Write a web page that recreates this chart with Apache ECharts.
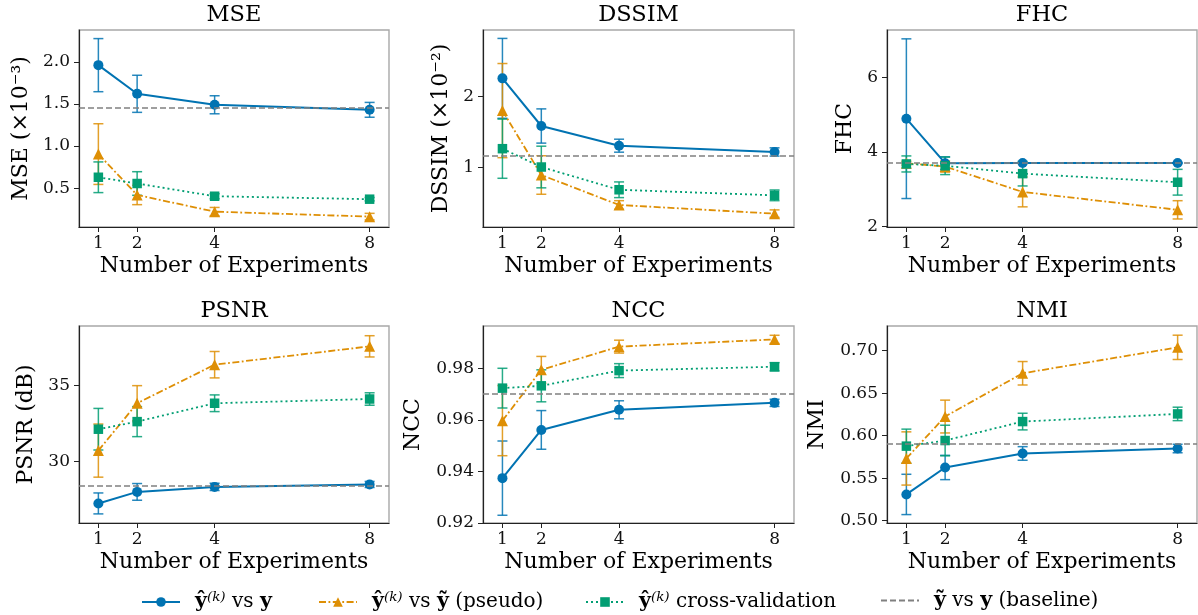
<!DOCTYPE html>
<html>
<head>
<meta charset="utf-8">
<script src="https://cdn.jsdelivr.net/npm/echarts@6/dist/echarts.min.js"></script>
<style>
html,body{margin:0;padding:0;background:#fff;}
#chart{width:1198px;height:615px;}
</style>
</head>
<body>
<div id="chart"></div>
<script>
// ---------------- data ----------------
const experiments = [1, 2, 4, 8];
const xTicks = [1, 2, 4, 8];

// MSE (x10^-3)
const mseRecon = [1.96, 1.62, 1.49, 1.43];
const mseReconStd = [0.315, 0.22, 0.107, 0.088];
const msePseudo = [0.905, 0.42, 0.222, 0.163];
const msePseudoStd = [0.36, 0.115, 0.05, 0.039];
const mseCV = [0.63, 0.556, 0.405, 0.37];
const mseCVStd = [0.182, 0.14, 0.03, 0.02];
const mseBaseline = 1.464;
const mseTicks = [0.5, 1.0, 1.5, 2.0];

// DSSIM (x10^-2)
const dssimRecon = [2.252, 1.584, 1.308, 1.22];
const dssimReconStd = [0.56, 0.24, 0.091, 0.058];
const dssimPseudo = [1.80, 0.897, 0.477, 0.355];
const dssimPseudoStd = [0.66, 0.27, 0.06, 0.053];
const dssimCV = [1.266, 1.009, 0.69, 0.612];
const dssimCVStd = [0.415, 0.292, 0.11, 0.075];
const dssimBaseline = 1.173;
const dssimTicks = [1, 2];

// FHC
const fhcRecon = [4.893, 3.70, 3.705, 3.705];
const fhcReconStd = [2.14, 0.17, 0.01, 0.01];
const fhcPseudo = [3.70, 3.61, 2.93, 2.45];
const fhcPseudoStd = [0.05, 0.15, 0.40, 0.245];
const fhcCV = [3.68, 3.63, 3.42, 3.19];
const fhcCVStd = [0.215, 0.235, 0.33, 0.345];
const fhcBaseline = 3.705;
const fhcTicks = [2, 4, 6];

// PSNR (dB)
const psnrRecon = [27.24, 28.0, 28.33, 28.49];
const psnrReconStd = [0.69, 0.55, 0.24, 0.2];
const psnrPseudo = [30.72, 33.84, 36.38, 37.59];
const psnrPseudoStd = [1.75, 1.16, 0.87, 0.7];
const psnrCV = [32.13, 32.63, 33.84, 34.12];
const psnrCVStd = [1.37, 0.99, 0.55, 0.41];
const psnrBaseline = 28.42;
const psnrTicks = [30, 35];

// NCC
const nccRecon = [0.9374, 0.9561, 0.9639, 0.9666];
const nccReconStd = [0.0144, 0.0075, 0.0035, 0.0014];
const nccPseudo = [0.9597, 0.9794, 0.9884, 0.9912];
const nccPseudoStd = [0.0136, 0.0052, 0.0025, 0.0016];
const nccCV = [0.9723, 0.9732, 0.9791, 0.9806];
const nccCVStd = [0.0077, 0.0062, 0.0027, 0.0016];
const nccBaseline = 0.96955;
const nccTicks = [0.92, 0.94, 0.96, 0.98];

// NMI
const nmiRecon = [0.5309, 0.5626, 0.5791, 0.5849];
const nmiReconStd = [0.0237, 0.0143, 0.008, 0.005];
const nmiPseudo = [0.5732, 0.6225, 0.6734, 0.7039];
const nmiPseudoStd = [0.0313, 0.0193, 0.0138, 0.0143];
const nmiCV = [0.5877, 0.5943, 0.6166, 0.6256];
const nmiCVStd = [0.02, 0.018, 0.0098, 0.0079];
const nmiBaseline = 0.5892;
const nmiTicks = [0.50, 0.55, 0.60, 0.65, 0.70];

const panelTitles = ['MSE', 'DSSIM', 'FHC', 'PSNR', 'NCC', 'NMI'];
const yNames = ['MSE (×10⁻³)', 'DSSIM (×10⁻²)', 'FHC', 'PSNR (dB)', 'NCC', 'NMI'];
const xName = 'Number of Experiments';
const seriesNames = ['recon', 'pseudo', 'cv', 'baseline'];

// ---------------- layout / styles ----------------
const FONT = 'DejaVu Serif';
const COLORS = ['#0173b2', '#de8f05', '#029e73', '#808080'];
const panels = [
  {rec: mseRecon, recS: mseReconStd, ps: msePseudo, psS: msePseudoStd, cv: mseCV, cvS: mseCVStd, base: mseBaseline, ticks: mseTicks, dec: 1,
   ymin: 0.04, ymax: 2.377, grid: [79, 30, 310, 197], nameGap: 47},
  {rec: dssimRecon, recS: dssimReconStd, ps: dssimPseudo, psS: dssimPseudoStd, cv: dssimCV, cvS: dssimCVStd, base: dssimBaseline, ticks: dssimTicks, dec: 0,
   ymin: 0.168, ymax: 2.93, grid: [483, 30, 311, 197], nameGap: 31},
  {rec: fhcRecon, recS: fhcReconStd, ps: fhcPseudo, psS: fhcPseudoStd, cv: fhcCV, cvS: fhcCVStd, base: fhcBaseline, ticks: fhcTicks, dec: 0,
   ymin: 1.99, ymax: 7.27, grid: [887, 30, 310, 197], nameGap: 31},
  {rec: psnrRecon, recS: psnrReconStd, ps: psnrPseudo, psS: psnrPseudoStd, cv: psnrCV, cvS: psnrCVStd, base: psnrBaseline, ticks: psnrTicks, dec: 0,
   ymin: 25.95, ymax: 38.93, grid: [79, 326, 310, 197], nameGap: 42},
  {rec: nccRecon, recS: nccReconStd, ps: nccPseudo, psS: nccPseudoStd, cv: nccCV, cvS: nccCVStd, base: nccBaseline, ticks: nccTicks, dec: 2,
   ymin: 0.92, ymax: 0.9964, grid: [483, 326, 311, 197], nameGap: 59},
  {rec: nmiRecon, recS: nmiReconStd, ps: nmiPseudo, psS: nmiPseudoStd, cv: nmiCV, cvS: nmiCVStd, base: nmiBaseline, ticks: nmiTicks, dec: 2,
   ymin: 0.4973, ymax: 0.729, grid: [887, 326, 310, 197], nameGap: 59}
];

const grids = [], xAxes = [], yAxes = [], series = [], graphics = [];
const lineSeries = [], errSeries = [], baseSeries = [];

function errRender(color) {
  return function (params, api) {
    const x = api.value(0), lo = api.value(1), hi = api.value(2);
    const pLo = api.coord([x, lo]);
    const pHi = api.coord([x, hi]);
    const cap = 5;
    const st = {stroke: color, lineWidth: 1.5, opacity: 0.85};
    return {
      type: 'group',
      children: [
        {type: 'line', shape: {x1: pLo[0], y1: pLo[1], x2: pHi[0], y2: pHi[1]}, style: st},
        {type: 'line', shape: {x1: pLo[0] - cap, y1: pLo[1], x2: pLo[0] + cap, y2: pLo[1]}, style: st},
        {type: 'line', shape: {x1: pHi[0] - cap, y1: pHi[1], x2: pHi[0] + cap, y2: pHi[1]}, style: st}
      ]
    };
  };
}

const lineStyles = [
  {type: 'solid', width: 2},
  {type: [7, 2.5, 1.8, 2.5], width: 1.8},
  {type: [2, 3], width: 1.8}
];
const symbols = [
  {symbol: 'circle', size: 10},
  {symbol: 'triangle', size: 11},
  {symbol: 'rect', size: 9.5}
];

panels.forEach(function (p, i) {
  const g = p.grid;
  grids.push({left: g[0], top: g[1], width: g[2], height: g[3], show: true,
    borderColor: '#a8a8a8', borderWidth: 1.4, backgroundColor: 'transparent'});
  xAxes.push({
    type: 'value', gridIndex: i, min: 0.5, max: 8.5,
    name: xName, nameLocation: 'middle', nameGap: 28,
    nameTextStyle: {fontFamily: FONT, fontSize: 22, color: '#000'},
    axisLine: {show: true, onZero: false, lineStyle: {color: '#222', width: 1.2}},
    axisTick: {show: true, length: 5, customValues: xTicks, lineStyle: {color: '#222'}},
    axisLabel: {customValues: xTicks, margin: 8, fontFamily: FONT, fontSize: 17, color: '#111'},
    splitLine: {show: false}
  });
  yAxes.push({
    type: 'value', gridIndex: i, min: p.ymin, max: p.ymax,
    name: yNames[i], nameLocation: 'middle', nameGap: p.nameGap,
    nameTextStyle: {fontFamily: FONT, fontSize: 22, color: '#000'},
    axisLine: {show: true, onZero: false, lineStyle: {color: '#222', width: 1.2}},
    axisTick: {show: true, length: 5, customValues: p.ticks, lineStyle: {color: '#222'}},
    axisLabel: {customValues: p.ticks, margin: 9, fontFamily: FONT, fontSize: 17, color: '#111',
      formatter: (function (d) { return function (v) { return Number(v).toFixed(d); }; })(p.dec)},
    splitLine: {show: false}
  });
  graphics.push({
    type: 'text', x: g[0] + g[2] / 2, y: g[1] - 15,
    style: {text: panelTitles[i], font: '22.5px "DejaVu Serif"', fill: '#000', textAlign: 'center', textVerticalAlign: 'middle'}
  });

  const means = [p.rec, p.ps, p.cv];
  const stds = [p.recS, p.psS, p.cvS];
  for (let k = 0; k < 3; k++) {
    lineSeries.push({
      type: 'line', name: seriesNames[k], xAxisIndex: i, yAxisIndex: i,
      data: experiments.map(function (x, j) { return [x, means[k][j]]; }),
      symbol: symbols[k].symbol, symbolSize: symbols[k].size,
      showSymbol: true, z: 4,
      itemStyle: {color: COLORS[k]},
      lineStyle: Object.assign({color: COLORS[k]}, lineStyles[k]),
      animation: false
    });
    errSeries.push({
      type: 'custom', name: seriesNames[k], xAxisIndex: i, yAxisIndex: i,
      data: experiments.map(function (x, j) { return [x, means[k][j] - stds[k][j], means[k][j] + stds[k][j]]; }),
      renderItem: errRender(COLORS[k]), z: 3, animation: false,
      encode: {x: 0, y: [1, 2]}
    });
  }
  baseSeries.push({
    type: 'line', name: seriesNames[3], xAxisIndex: i, yAxisIndex: i,
    data: [], symbol: 'none', legendIcon: 'none',
    lineStyle: {color: COLORS[3], type: [6, 3], width: 1.5},
    itemStyle: {color: COLORS[3]},
    markLine: {silent: true, symbol: 'none', animation: false, label: {show: false},
      lineStyle: {color: COLORS[3], type: [6, 3], width: 1.5},
      data: [{yAxis: p.base}]},
    z: 2, animation: false
  });
});

series.push.apply(series, lineSeries);
series.push.apply(series, baseSeries);
series.push.apply(series, errSeries);

const rich = {
  g: {width: 10},
  b: {fontFamily: FONT, fontWeight: 'bold', fontSize: 20.5, color: '#000', lineHeight: 24},
  sup: {fontFamily: FONT, fontStyle: 'italic', fontSize: 13.5, color: '#000', verticalAlign: 'top', lineHeight: 24, padding: [0, 0, 8, 0]},
  r: {fontFamily: FONT, fontSize: 20, color: '#000', lineHeight: 24}
};
const legendText = {
  recon: '{g|}{b|ŷ}{sup|(k)}{r| vs }{b|y}',
  pseudo: '{g|}{b|ŷ}{sup|(k)}{r| vs }{b|ỹ}{r| (pseudo)}',
  cv: '{g|}{b|ŷ}{sup|(k)}{r| cross-validation}',
  baseline: '{g|}{b|ỹ}{r| vs }{b|y}{r| (baseline)}'
};
const legendLefts = [141, 318, 585, 880];
const legends = seriesNames.map(function (n, k) {
  const lg = {
    data: [n], left: legendLefts[k], top: 590, orient: 'horizontal',
    itemWidth: 38, itemHeight: 12, padding: 0,
    formatter: function (name) { return legendText[name]; },
    textStyle: {rich: rich, fontFamily: FONT, fontSize: 20, color: '#000'},
    selectedMode: false
  };
  if (n === 'baseline') { lg.itemStyle = {opacity: 0, borderWidth: 0}; }
  return lg;
});

const chart = echarts.init(document.getElementById('chart'), null, {renderer: 'canvas'});
chart.setOption({
  backgroundColor: '#fff',
  animation: false,
  grid: grids,
  xAxis: xAxes,
  yAxis: yAxes,
  legend: legends,
  graphic: graphics,
  series: series
});
</script>
</body>
</html>
